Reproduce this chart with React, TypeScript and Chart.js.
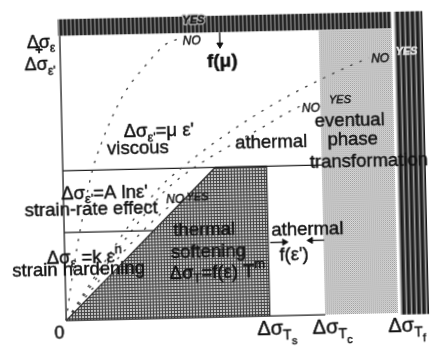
import React, { useEffect, useRef } from "react";
import { Chart, registerables } from "chart.js";

Chart.register(...registerables);

// ---- scale ranges (data units) ----
const X_RANGE = [-17.5, 110.9];
const Y_RANGE = [-13.3, 109.6];

// ---- critical stresses on the horizontal axis ----
const tickValues = [61.4, 78.1, 100.9];
const tickSubscripts = ["s", "c", "f"];

// ---- region boundaries ----
const thermalTop = 52.6;
const rateTop = 30.9;
const diagTopX = 45.9;
const bandBottom = 100;
const bandTop = 105.8;
const stippleRight = 100;
const bandRight = 109.4;
const rightBandBottom = -0.6;

// ---- dotted deformation paths ----
const curveA = [[0, 0], [1.5, 11], [3.5, 24], [6, 38], [8.9, 52.5], [12, 62.5], [14.4, 69], [19.3, 79.8], [25.4, 88.6], [32, 96.3], [35.8, 98]];
const curveB = [[0, 0], [10, 17], [20, 33.5], [30, 47], [36.2, 53], [40.1, 56.5], [50, 64.5], [60, 71.7], [70, 78], [80, 83.5], [90, 88.5], [93, 89.8]];
const curveC = [[0, 0], [5, 7.8], [10, 15.5], [15, 23], [20, 30.5], [25, 37.5], [30, 44], [35, 49], [40, 53], [50, 59.8], [60, 66], [70, 72.4], [72, 73.4]];
const curveD = [[0, 0], [10, 13.5], [20, 26.5], [27, 34.5], [31, 38.5], [33.5, 40.8]];

// ---- arrows ----
const arrowMu = [[48.2, 100], [48.2, 95.6]];
const arrowRight = [[62, 25.8], [66.3, 25.8]];
const arrowLeft = [[78.3, 26.2], [74.2, 26.2]];

const FAMILY = "'Liberation Sans', Arial, Helvetica, sans-serif";

type Seg = { t: string; s?: number; dy?: number; b?: boolean; i?: boolean };
type Note = { x: number; y: number; segs: Seg[]; color?: string; halo?: string; anchorFirst?: boolean };

const S = 13;
const notes: Note[] = [
  { x: 48.8, y: 89.6, segs: [{ t: "f(μ)", s: 19, b: true }] },
  { x: 40.4, y: 104.3, segs: [{ t: "YES", s: 11, i: true, b: true }], halo: "#bdbdbd" },
  { x: 39.7, y: 97.0, segs: [{ t: "NO", s: 12, i: true }] },
  { x: 96.4, y: 89.2, segs: [{ t: "NO", s: 12, i: true }] },
  { x: 104.4, y: 91.8, segs: [{ t: "YES", s: 11, i: true, b: true }], color: "#e6e6e6" },
  { x: 75.2, y: 72.6, segs: [{ t: "NO", s: 12, i: true }] },
  { x: 84.0, y: 75.3, segs: [{ t: "YES", s: 11, i: true }] },
  { x: 33.7, y: 41.6, segs: [{ t: "NO", s: 12, i: true }] },
  { x: 40.4, y: 42.2, segs: [{ t: "YES", s: 11, i: true }] },
  { x: 29.2, y: 65.7, segs: [{ t: "Δσ" }, { t: "ε'", s: S, dy: 6 }, { t: "=μ ε'" }] },
  { x: 22.8, y: 59.9, segs: [{ t: "viscous" }] },
  { x: 63.0, y: 60.8, segs: [{ t: "athermal" }] },
  { x: 86.8, y: 67.9, segs: [{ t: "eventual" }] },
  { x: 87.6, y: 61.2, segs: [{ t: "phase" }] },
  { x: 92.3, y: 53.6, segs: [{ t: "transformation" }] },
  { x: 12.4, y: 44.4, segs: [{ t: "Δσ" }, { t: "ε'", s: S, dy: 6 }, { t: "=A lnε'" }] },
  { x: 8.3, y: 38.7, segs: [{ t: "strain-rate effect" }] },
  { x: 5.9, y: 22.0, segs: [{ t: "Δσ" }, { t: "ε", s: S, dy: 6 }, { t: " =k ε" }, { t: "n", s: S, dy: -7 }] },
  { x: 4.1, y: 17.8, segs: [{ t: "strain hardening" }] },
  { x: 42.2, y: 30.7, segs: [{ t: "thermal" }] },
  { x: 43.3, y: 22.9, segs: [{ t: "softening" }] },
  { x: 45.9, y: 15.7, segs: [{ t: "Δσ" }, { t: "T", s: S, dy: 6 }, { t: "=f(ε) T" }, { t: "m", s: S, dy: -7 }] },
  { x: 73.3, y: 29.8, segs: [{ t: "athermal" }] },
  { x: 69.1, y: 21.1, segs: [{ t: "f(ε')" }] },
  { x: -6.5, y: 97.8, segs: [{ t: "Δσ", s: 18 }, { t: "ε", s: 12, dy: 6 }], anchorFirst: true },
  { x: -6.3, y: 95.2, segs: [{ t: "+", s: 13, b: true }] },
  { x: -7.3, y: 89.8, segs: [{ t: "Δσ", s: 18 }, { t: "ε'", s: 12, dy: 6 }], anchorFirst: true },
  { x: -2.1, y: -4.5, segs: [{ t: "0", s: 18 }] },
];

const pts = (arr: number[][]) => arr.map(([x, y]) => ({ x, y }));

function fontOf(sg: Seg) {
  return `${sg.i ? "italic " : ""}${sg.b ? "bold " : ""}${sg.s ?? 18.5}px ${FAMILY}`;
}

function drawNote(ctx: CanvasRenderingContext2D, n: Note, px: number, py: number) {
  const widths = n.segs.map((sg) => {
    ctx.font = fontOf(sg);
    return ctx.measureText(sg.t).width;
  });
  const total = widths.reduce((a, b) => a + b, 0);
  let x = n.anchorFirst ? px - widths[0] / 2 : px - total / 2;
  n.segs.forEach((sg, k) => {
    ctx.font = fontOf(sg);
    const yy = py + (sg.dy ?? 0);
    if (n.halo) {
      ctx.strokeStyle = n.halo;
      ctx.lineWidth = 3;
      ctx.strokeText(sg.t, x, yy);
    }
    const col = n.color ?? "#111";
    ctx.fillStyle = col;
    ctx.fillText(sg.t, x, yy);
    ctx.strokeStyle = col;
    ctx.lineWidth = 0.45;
    ctx.strokeText(sg.t, x, yy);
    x += widths[k];
  });
}

function makePattern(w: number, h: number, paint: (g: CanvasRenderingContext2D) => void) {
  const c = document.createElement("canvas");
  c.width = w;
  c.height = h;
  const g = c.getContext("2d")!;
  paint(g);
  return g.createPattern(c, "repeat")!;
}

const notesPlugin = {
  id: "notes",
  afterDatasetsDraw(chart: any) {
    const ctx: CanvasRenderingContext2D = chart.ctx;
    const xs = chart.scales.x;
    const ys = chart.scales.y;
    ctx.save();
    ctx.textAlign = "left";
    ctx.textBaseline = "middle";
    ctx.lineJoin = "round";
    notes.forEach((n) => drawNote(ctx, n, xs.getPixelForValue(n.x), ys.getPixelForValue(n.y)));
    tickValues.forEach((v, k) => {
      drawNote(
        ctx,
        {
          x: v,
          y: -4.8,
          segs: [{ t: "Δσ", s: 20 }, { t: "T", s: 14, dy: 6 }, { t: tickSubscripts[k], s: 11, dy: 12 }],
          anchorFirst: true,
        },
        xs.getPixelForValue(v),
        ys.getPixelForValue(-4.8)
      );
    });
    ctx.restore();
  },
};

export default function App() {
  const ref = useRef<HTMLCanvasElement>(null);
  useEffect(() => {
    document.body.style.margin = "0";
    document.body.style.overflow = "hidden";
    const canvas = ref.current!;

    const stripesTop = makePattern(4, 1, (g) => {
      ["#1c1c1c", "#3a3a3a", "#8e8e8e", "#2c2c2c"].forEach((c, i) => {
        g.fillStyle = c;
        g.fillRect(i, 0, 1, 1);
      });
    });
    const stripesRight = makePattern(5, 1, (g) => {
      ["#181818", "#262626", "#444", "#9a9a9a", "#555"].forEach((c, i) => {
        g.fillStyle = c;
        g.fillRect(i, 0, 1, 1);
      });
    });
    const hatch = makePattern(3, 3, (g) => {
      g.fillStyle = "#c4c4c4";
      g.fillRect(0, 0, 3, 3);
      g.fillStyle = "#444";
      g.fillRect(0, 0, 3, 1);
      g.fillRect(0, 0, 1, 3);
    });
    const stipple = makePattern(2, 2, (g) => {
      g.fillStyle = "#dcdcdc";
      g.fillRect(0, 0, 2, 2);
      g.fillStyle = "#999";
      g.fillRect(0, 0, 1, 1);
      g.fillStyle = "#b8b8b8";
      g.fillRect(1, 1, 1, 1);
    });

    const poly = (arr: number[][], bg: any, order: number, border = 0) => ({
      data: pts(arr),
      fill: "shape",
      backgroundColor: bg,
      borderColor: "#222",
      borderWidth: border,
      pointRadius: 0,
      order,
    });
    const rule = (arr: number[][]) => ({
      data: pts(arr),
      fill: false,
      borderColor: "#1e1e1e",
      borderWidth: 1.3,
      pointRadius: 0,
      order: 8,
    });
    const dotted = (arr: number[][]) => ({
      data: pts(arr),
      fill: false,
      borderColor: "#3a3a3a",
      borderWidth: 1.3,
      borderDash: [2.5, 7.5],
      cubicInterpolationMode: "monotone",
      pointRadius: 0,
      order: 6,
    });
    const arrow = (arr: number[][], rot: number) => ({
      data: pts(arr),
      fill: false,
      borderColor: "#111",
      borderWidth: 1.3,
      pointRadius: [0, 3.5],
      pointStyle: "triangle",
      pointRotation: [0, rot],
      pointBackgroundColor: "#111",
      pointBorderColor: "#111",
      pointBorderWidth: 1,
      order: 2,
    });

    const topBand = [[-0.5, bandBottom], [stippleRight, bandBottom], [stippleRight, bandTop], [-0.5, bandTop]];
    const rightBand = [[tickValues[2], rightBandBottom], [bandRight, rightBandBottom], [bandRight, bandTop], [tickValues[2], bandTop]];
    const phase = [[tickValues[1], 0], [stippleRight, 0], [stippleRight, bandBottom], [tickValues[1], bandBottom]];
    const thermal = [[0, 0], [diagTopX, thermalTop], [tickValues[0], thermalTop], [tickValues[0], 0]];

    const chart = new Chart(canvas, {
      type: "line",
      data: {
        datasets: [
          poly(topBand, stripesTop, 20),
          poly(rightBand, stripesRight, 20),
          poly(phase, stipple, 19),
          poly(thermal, hatch, 18, 1.2),
          rule([[0, 0], [0, bandBottom]]),
          rule([[0, 0], [tickValues[1], 0]]),
          rule([[0, thermalTop], [tickValues[1], thermalTop]]),
          rule([[0, rateTop], [(rateTop * diagTopX) / thermalTop, rateTop]]),
          dotted(curveA),
          dotted(curveB),
          dotted(curveC),
          dotted(curveD),
          arrow(arrowMu, 180),
          arrow(arrowRight, 90),
          arrow(arrowLeft, 270),
        ] as any,
      },
      options: {
        animation: false,
        responsive: false,
        events: [],
        layout: { padding: 0 },
        plugins: { legend: { display: false }, tooltip: { enabled: false }, title: { display: false } },
        scales: {
          x: { type: "linear", min: X_RANGE[0], max: X_RANGE[1], display: false },
          y: { type: "linear", min: Y_RANGE[0], max: Y_RANGE[1], display: false },
        },
      },
      plugins: [notesPlugin],
    });
    return () => chart.destroy();
  }, []);

  return (
    <div style={{ width: 436, height: 360, overflow: "hidden", position: "relative", background: "#fff" }}>
      <canvas
        ref={ref}
        width={436}
        height={360}
        style={{ display: "block", transform: "rotate(-1.3deg)", transformOrigin: "218px 180px" }}
      />
    </div>
  );
}
